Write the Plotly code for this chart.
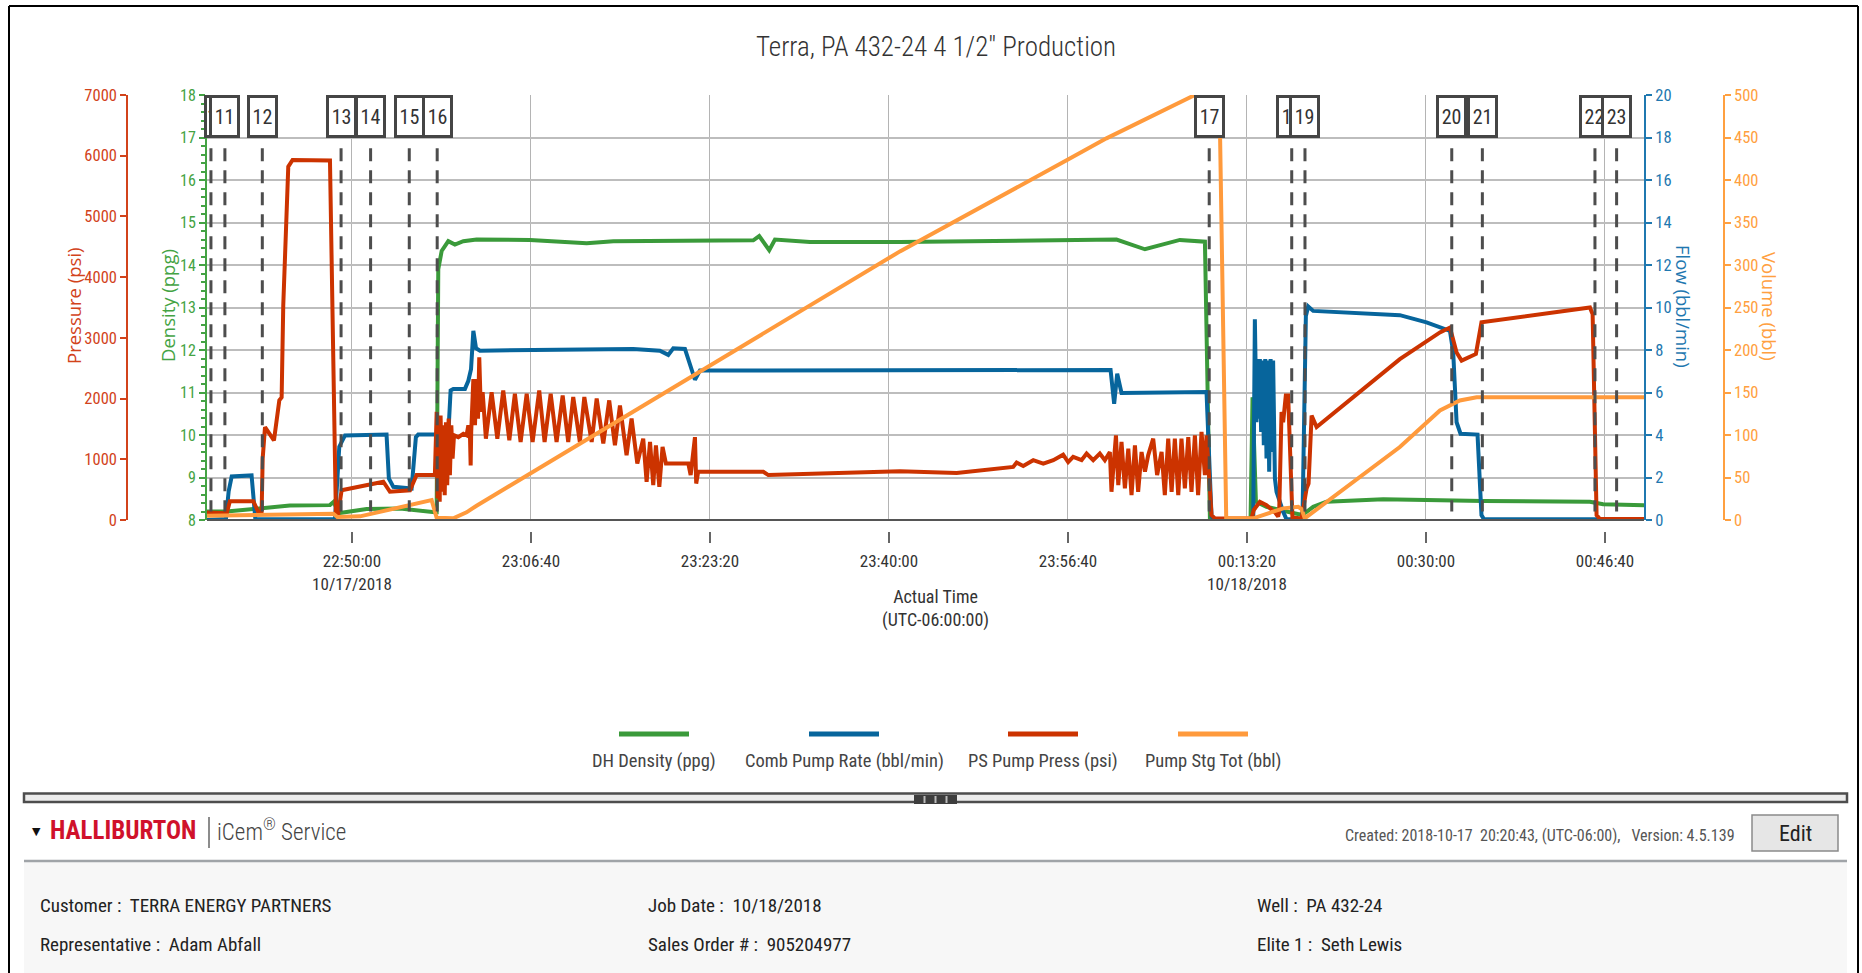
import plotly.graph_objects as go

W, H = 1862, 973

# ---------------- data ----------------
series_names = ["DH Density (ppg)", "Comb Pump Rate (bbl/min)", "PS Pump Press (psi)", "Pump Stg Tot (bbl)"]
series_colors = ["#3a9a3a", "#07659c", "#cc3300", "#ff9a3c"]

density_t = ["22:36:28", "22:38:20", "22:44:13", "22:47:57", "22:48:19", "22:48:43", "22:51:22", "22:54:28",
             "22:57:43", "22:57:53", "22:58:02", "22:58:21", "22:58:58", "22:59:35", "23:00:22", "23:01:36",
             "23:06:34", "23:11:51", "23:14:20", "23:27:22", "23:27:55", "23:28:51", "23:29:23", "23:32:38",
             "23:41:01", "00:01:11", "00:03:50", "00:07:05", "00:09:25", "00:09:53", "00:13:40", "00:13:51",
             "00:14:10", "00:15:09", "00:17:01", "00:18:15", "00:18:43", "00:19:30", "00:20:44", "00:26:01",
             "00:35:20", "00:45:16", "00:46:30", "00:50:19"]
density_v = [8.2, 8.2, 8.34, 8.35, 8.43, 8.16, 8.26, 8.27,
             8.18, 8.18, 13.9, 14.33, 14.56, 14.48, 14.56, 14.6,
             14.59, 14.51, 14.56, 14.58, 14.68, 14.35, 14.6, 14.54,
             14.54, 14.6, 14.37, 14.59, 14.55, 8.02, 8.02, 10.89,
             8.43, 8.31, 8.2, 8.13, 8.16, 8.31, 8.43, 8.49,
             8.45, 8.43, 8.37, 8.35]

flow_t = ["22:36:28", "22:38:16", "22:38:31", "22:38:48", "22:40:39", "22:41:00", "22:48:25", "22:48:49",
          "22:49:21", "22:53:13", "22:53:26", "22:53:51", "22:55:33", "22:55:57", "22:56:10", "22:58:58",
          "22:59:11", "22:59:26", "23:00:31", "23:00:50", "23:01:05", "23:01:18", "23:01:33", "23:01:55",
          "23:16:11", "23:18:40", "23:19:27", "23:19:55", "23:21:00", "23:21:28", "23:21:56", "23:22:24",
          "23:41:01", "00:00:38", "00:00:58", "00:01:15", "00:01:39", "00:09:34", "00:10:02", "00:10:21",
          "00:13:55", "00:14:04", "00:14:13", "00:14:19", "00:14:26", "00:14:32", "00:14:39", "00:14:47",
          "00:14:54", "00:15:02", "00:15:09", "00:15:17", "00:15:24", "00:15:32", "00:15:39", "00:15:46",
          "00:15:56", "00:16:05", "00:16:42", "00:17:01", "00:18:30", "00:18:49", "00:19:02", "00:19:30",
          "00:27:34", "00:30:03", "00:32:14", "00:32:32", "00:32:43", "00:32:51", "00:33:13", "00:34:48",
          "00:35:10", "00:35:24", "00:50:19"]
flow_v = [0.0, 0.05, 1.35, 2.05, 2.1, 0.05, 0.03, 3.45,
          3.98, 4.02, 1.95, 1.56, 1.48, 3.9, 4.02, 4.02,
          6.1, 6.17, 6.17, 6.55, 7.1, 8.9, 8.08, 7.97,
          8.05, 7.97, 7.77, 8.08, 8.05, 7.27, 6.6, 7.03,
          7.06, 7.06, 5.47, 6.88, 5.98, 6.02, 0.16, 0.03,
          0.03, 9.45, 4.6, 7.58, 4.77, 7.58, 4.14, 7.5,
          3.52, 7.58, 2.89, 7.5, 2.27, 7.58, 3.2, 7.5,
          1.95, 1.33, 0.39, 0.03, 0.03, 9.6, 10.05, 9.84,
          9.64, 9.3, 8.9, 7.9, 6.0, 4.6, 4.06, 4.02,
          0.23, 0.03, 0.03]

press_t = ["22:36:28", "22:38:20", "22:38:38", "22:40:49", "22:41:17", "22:41:35", "22:41:41", "22:41:54",
           "22:42:44", "22:43:14", "22:43:27", "22:43:36", "22:44:04", "22:44:28", "22:47:57", "22:48:30",
           "22:48:43", "22:49:02", "22:52:55", "22:53:32", "22:55:24", "22:56:01", "22:57:43", "22:57:53",
           "22:57:58", "22:58:04", "22:58:10", "22:58:15", "22:58:23", "22:58:30", "22:58:38", "22:58:45",
           "22:58:52", "22:59:00", "22:59:07", "22:59:15", "22:59:22", "22:59:30", "22:59:54", "23:00:22",
           "23:00:40", "23:00:50", "23:00:59", "23:01:03", "23:01:06", "23:01:18", "23:01:27", "23:01:36",
           "23:01:44", "23:01:51", "23:02:00", "23:02:10", "23:02:28", "23:03:00", "23:03:32", "23:04:05",
           "23:04:39", "23:05:10", "23:05:42", "23:06:16", "23:06:49", "23:07:26", "23:07:56", "23:08:30",
           "23:09:03", "23:09:37", "23:10:08", "23:10:36", "23:11:13", "23:11:38", "23:12:19", "23:12:47",
           "23:13:24", "23:13:57", "23:14:29", "23:14:57", "23:15:34", "23:16:02", "23:16:34", "23:17:07",
           "23:17:26", "23:17:45", "23:18:03", "23:18:18", "23:18:37", "23:18:55", "23:19:14", "23:21:19",
           "23:21:32", "23:21:56", "23:22:03", "23:22:14", "23:28:18", "23:28:46", "23:41:01", "23:46:18",
           "23:51:34", "23:51:53", "23:52:30", "23:53:26", "23:54:22", "23:55:18", "23:56:13", "23:56:41",
           "23:57:09", "23:57:56", "23:58:24", "23:59:01", "23:59:38", "00:00:06", "00:00:34", "00:00:43",
           "00:01:08", "00:01:21", "00:01:39", "00:01:58", "00:02:17", "00:02:35", "00:02:54", "00:03:12",
           "00:03:31", "00:03:50", "00:04:08", "00:04:36", "00:04:58", "00:05:23", "00:05:41", "00:06:00",
           "00:06:19", "00:06:37", "00:06:56", "00:07:14", "00:07:33", "00:07:52", "00:08:10", "00:08:29",
           "00:08:47", "00:09:06", "00:09:25", "00:09:34", "00:10:02", "00:10:21", "00:13:45", "00:13:58",
           "00:14:32", "00:15:09", "00:15:56", "00:16:14", "00:16:20", "00:16:33", "00:16:42", "00:16:57",
           "00:17:10", "00:17:23", "00:17:34", "00:18:25", "00:18:38", "00:18:53", "00:19:04", "00:19:21",
           "00:19:49", "00:27:34", "00:31:18", "00:32:14", "00:32:51", "00:33:19", "00:34:39", "00:35:10",
           "00:45:16", "00:45:31", "00:45:53", "00:46:12", "00:50:19"]
press_v = [125, 110, 310, 310, 125, 110, 1010, 1530,
           1310, 1970, 2020, 3530, 5820, 5930, 5920, 110,
           110, 490, 630, 465, 490, 740, 740, 1780,
           355, 1670, 300, 1720, 465, 1560, 410, 1610,
           575, 1670, 740, 1560, 1010, 1395, 1365, 1420,
           1395, 1560, 1395, 900, 1450, 2320, 1560, 2320,
           1670, 2680, 1780, 2105, 1340, 2105, 1340, 2135,
           1315, 2080, 1285, 2080, 1285, 2135, 1285, 2080,
           1285, 2050, 1285, 2025, 1285, 2025, 1285, 2000,
           1260, 1970, 1230, 1885, 1065, 1670, 930, 1340,
           630, 1285, 575, 1230, 545, 1205, 930, 930,
           740, 1365, 600, 795, 795, 740, 805, 775,
           875, 945, 890, 985, 930, 985, 1075, 955,
           1040, 985, 1095, 985, 1095, 985, 1120, 465,
           1395, 575, 1285, 520, 1175, 410, 1230, 465,
           1120, 795, 1065, 1340, 740, 1120, 410, 1340,
           465, 1340, 410, 1340, 520, 1365, 465, 1395,
           410, 1450, 740, 1395, 80, 25, 25, 165,
           300, 245, 125, 55, 135, 1780, 1610, 2050,
           2050, 740, 40, 25, 245, 520, 600, 1720,
           1530, 2650, 3090, 3170, 2760, 2625, 2735, 3255,
           3500, 3390, 80, 15, 15]

vol_t = ["22:36:28", "22:48:16", "22:48:38", "22:50:45", "22:57:25", "22:57:53", "22:59:26", "23:00:40",
         "23:01:36", "23:41:01", "23:56:40", "00:00:15", "00:08:29", "00:10:45", "00:11:24", "00:13:55",
         "00:16:42", "00:18:06", "00:18:25", "00:18:43", "00:27:34", "00:31:18", "00:33:09", "00:34:43",
         "00:50:19"]
vol_v = [5.1, 7.4, 3.5, 4.3, 23.4, 2.7, 2.0, 9.0,
         16.8, 316, 424, 449, 500, 513, 2.0, 2.0,
         13.7, 15.6, 12.9, 2.0, 85.9, 128.9, 140.6, 144.5,
         144.5]

event_labels = ["10", "11", "12", "13", "14", "15", "16", "17", "18", "19", "20", "21", "22", "23"]
event_t = ["22:36:52", "22:38:10", "22:41:39", "22:48:59", "22:51:44", "22:55:20", "22:57:56",
           "00:09:49", "00:17:30", "00:18:44", "00:32:24", "00:35:15", "00:45:44", "00:47:45"]

tick_t = ["22:50:00", "23:06:40", "23:23:20", "23:40:00", "23:56:40", "00:13:20", "00:30:00", "00:46:40"]
tick_text = ["22:50:00<br>10/17/2018", "23:06:40", "23:23:20", "23:40:00", "23:56:40",
             "00:13:20<br>10/18/2018", "00:30:00", "00:46:40"]
x_start, x_end = "22:36:30", "00:50:18"

title_text = 'Terra, PA 432-24 4 1/2" Production'
info_labels = ["Customer", "Representative", "Job Date", "Sales Order #", "Well", "Elite 1"]
info_values = ["TERRA ENERGY PARTNERS", "Adam Abfall", "10/18/2018", "905204977", "PA 432-24", "Seth Lewis"]
created_text = "Created: 2018-10-17\u00a0 20:20:43, (UTC-06:00),\u00a0\u00a0 Version: 4.5.139"

# ---------------- helpers ----------------
def to_dt(hms):
    h = int(hms.split(":")[0])
    day = 17 if h >= 12 else 18
    return f"2018-10-{day} {hms}"

def px(X):
    return X / W

def py(Y):
    return 1 - Y / H

NARROW = "Roboto Condensed, Liberation Sans Narrow, DejaVu Sans Condensed, sans-serif"
SANS = "Open Sans, Noto Sans, DejaVu Sans, sans-serif"

GREEN, BLUE, RED, ORANGE = series_colors
AX_GREEN, AX_BLUE, AX_RED, AX_ORANGE = "#44a344", "#1f78b0", "#d2431b", "#ffa040"

fig = go.Figure()
series = [(density_t, density_v, "y"), (flow_t, flow_v, "y2"), (press_t, press_v, "y3"), (vol_t, vol_v, "y4")]
for (t, v, ax), name, col in zip(series, series_names, series_colors):
    fig.add_trace(go.Scatter(x=[to_dt(s) for s in t], y=v, name=name, mode="lines",
                             line=dict(color=col, width=4), xaxis="x", yaxis=ax,
                             showlegend=False, hoverinfo="skip"))

xr = [to_dt(x_start), to_dt(x_end)]
tick_dt = [to_dt(s) for s in tick_t]
tickfont = lambda c, s=17: dict(family=NARROW, size=s, color=c)

PL, PR, PT, PB = 207, 1644, 95, 520   # plot-area edges in pixels

fig.update_layout(
    width=W, height=H, margin=dict(l=0, r=0, t=0, b=0, autoexpand=False),
    paper_bgcolor="white", plot_bgcolor="white", showlegend=False,
    xaxis=dict(domain=[px(PL), px(PR)], type="date", range=xr, tickvals=tick_dt, ticktext=tick_text,
               anchor="free", position=py(531), ticks="outside", ticklen=11, tickwidth=1.5,
               tickcolor="#666666", tickfont=tickfont("#333333", 17), ticklabelstandoff=4,
               showgrid=True, gridcolor="#b4b4b4", gridwidth=1, showline=False, zeroline=False,
               automargin=False),
    yaxis=dict(domain=[py(PB), py(PT)], range=[8, 18], tick0=8, dtick=1, showgrid=True,
               gridcolor="#bdbdbd", gridwidth=1.8, zeroline=False, showline=True, linecolor=AX_GREEN,
               linewidth=2, ticks="outside", ticklen=6, tickwidth=2, tickcolor=AX_GREEN,
               tickfont=tickfont(AX_GREEN, 16), anchor="x", automargin=False,
               minor=dict(dtick=0.2, ticks="outside", ticklen=4, tickwidth=1.5, tickcolor=AX_GREEN, showgrid=False)),
    yaxis2=dict(overlaying="y", side="right", anchor="x", range=[0, 20], dtick=2, showgrid=False,
                zeroline=False, showline=True, linecolor=AX_BLUE, linewidth=2, ticks="outside",
                ticklen=6, tickwidth=1.5, tickcolor=AX_BLUE, tickfont=tickfont(AX_BLUE, 16.5), automargin=False),
    yaxis3=dict(overlaying="y", side="left", anchor="free", position=px(127), range=[0, 7000], dtick=1000,
                showgrid=False, zeroline=False, showline=True, linecolor=AX_RED, linewidth=1.5,
                ticks="outside", ticklen=6, tickwidth=1.5, tickcolor=AX_RED, tickfont=tickfont(AX_RED, 16.5),
                automargin=False),
    yaxis4=dict(overlaying="y", side="right", anchor="free", position=px(1724), range=[0, 500], dtick=50,
                showgrid=False, zeroline=False, showline=True, linecolor=AX_ORANGE, linewidth=1.5,
                ticks="outside", ticklen=6, tickwidth=1.5, tickcolor=AX_ORANGE, tickfont=tickfont(AX_ORANGE, 16.5),
                automargin=False),
)

shapes = []
ann = []

def text(X, Y, s, font, xa="center", ya="middle", **kw):
    ann.append(dict(x=px(X), y=py(Y), xref="paper", yref="paper", text=s, showarrow=False,
                    xanchor=xa, yanchor=ya, font=font, **kw))

# plot-area bottom border
shapes.append(dict(type="line", xref="paper", yref="paper", x0=px(PL), x1=px(PR), y0=py(PB), y1=py(PB),
                   line=dict(color="#555555", width=2)))

# title and axis titles
text(936, 47, title_text, dict(family=NARROW, size=27, color="#333333", weight=300))
text(936, 608, "Actual Time<br>(UTC-06:00:00)", dict(family=NARROW, size=18, color="#333333"))
for X, txt, col, ang in [(73, "Pressure (psi)", AX_RED, -90), (167, "Density (ppg)", AX_GREEN, -90),
                         (1684, "Flow (bbl/min)", AX_BLUE, 90), (1770, "Volume (bbl)", AX_ORANGE, 90)]:
    text(X, 306, txt, dict(family=SANS, size=18.5, color=col), textangle=ang)

# event markers
for lab, t in zip(event_labels, event_t):
    shapes.append(dict(type="line", xref="x", yref="y", x0=to_dt(t), x1=to_dt(t), y0=16.75, y1=8.2,
                       line=dict(color="#4d4d4d", width=3, dash="13px,9px"), layer="above"))
for i, (lab, t) in enumerate(zip(event_labels, event_t)):
    first = i == 0
    ann.append(dict(x=to_dt(t), y=18, xref="x", yref="y", xanchor="center", yanchor="top", text=lab,
                    showarrow=False, width=25, height=37, bgcolor="white", bordercolor="#454545",
                    borderwidth=3, borderpad=0, align="left" if first else "center",
                    xshift=9 if first else 0, font=dict(family=NARROW, size=20, color="#333333")))

# custom legend (line above label)
leg_x = [654, 844, 1043, 1213]
for X, name, col in zip(leg_x, series_names, series_colors):
    shapes.append(dict(type="line", xref="paper", yref="paper", x0=px(X - 35), x1=px(X + 35),
                       y0=py(734), y1=py(734), line=dict(color=col, width=5)))
    text(X, 761, name, dict(family=NARROW, size=18.5, color="#444444"))

# page frame
for x0, y0, x1, y1 in [(9, 6, 1858, 6), (9, 6, 9, 973), (1858, 6, 1858, 973)]:
    shapes.append(dict(type="line", xref="paper", yref="paper", x0=px(x0), x1=px(x1), y0=py(y0), y1=py(y1),
                       line=dict(color="black", width=2)))
# splitter bar
shapes.append(dict(type="rect", xref="paper", yref="paper", x0=px(24), x1=px(1847), y0=py(802), y1=py(793.5),
                   fillcolor="#ececec", line=dict(color="#4d4d4d", width=2.5)))
shapes.append(dict(type="rect", xref="paper", yref="paper", x0=px(914), x1=px(957), y0=py(804), y1=py(795),
                   fillcolor="#3d3d3d", line=dict(width=0)))
for X in [924.5, 935.5, 946.5]:
    shapes.append(dict(type="line", xref="paper", yref="paper", x0=px(X), x1=px(X), y0=py(803), y1=py(796),
                       line=dict(color="#bbbbbb", width=2)))
# footer header
text(36, 831, "\u25BC", dict(family="DejaVu Sans", size=11, color="#111111"))
text(48, 830, "<b>HALLIBURTON</b>", dict(family=NARROW, size=25, color="#d0112b"), xa="left")
shapes.append(dict(type="line", xref="paper", yref="paper", x0=px(209), x1=px(209), y0=py(817), y1=py(848),
                   line=dict(color="#666666", width=1.5)))
text(215, 830, "iCem<sup>\u00ae</sup> Service", dict(family=NARROW, size=23, color="#444444", weight=300), xa="left")
text(1737, 835, created_text, dict(family=NARROW, size=16, color="#555555"), xa="right")
shapes.append(dict(type="rect", xref="paper", yref="paper", x0=px(1752), x1=px(1838), y0=py(851), y1=py(815),
                   fillcolor="#e6e6e6", line=dict(color="#8a8a8a", width=1.5)))
text(1795, 833, "Edit", dict(family=NARROW, size=22, color="#222222"))
# info panel
shapes.append(dict(type="rect", xref="paper", yref="paper", x0=px(24), x1=px(1847), y0=py(973), y1=py(862),
                   fillcolor="#f7f7f7", line=dict(width=0), layer="below"))
shapes.append(dict(type="line", xref="paper", yref="paper", x0=px(24), x1=px(1847), y0=py(861), y1=py(861),
                   line=dict(color="#a0a4a8", width=2.5)))
info_x = [38, 38, 646, 646, 1255, 1255]
info_y = [905, 944, 905, 944, 905, 944]
for X, Y, lab, val in zip(info_x, info_y, info_labels, info_values):
    text(X, Y, f"{lab} :\u00a0 {val}", dict(family=NARROW, size=19, color="#222222"), xa="left")

fig.update_layout(shapes=shapes, annotations=ann)
fig.write_html("out.html", config={"displayModeBar": False},
               post_script="document.body.style.margin='0';document.body.style.overflow='hidden';")
